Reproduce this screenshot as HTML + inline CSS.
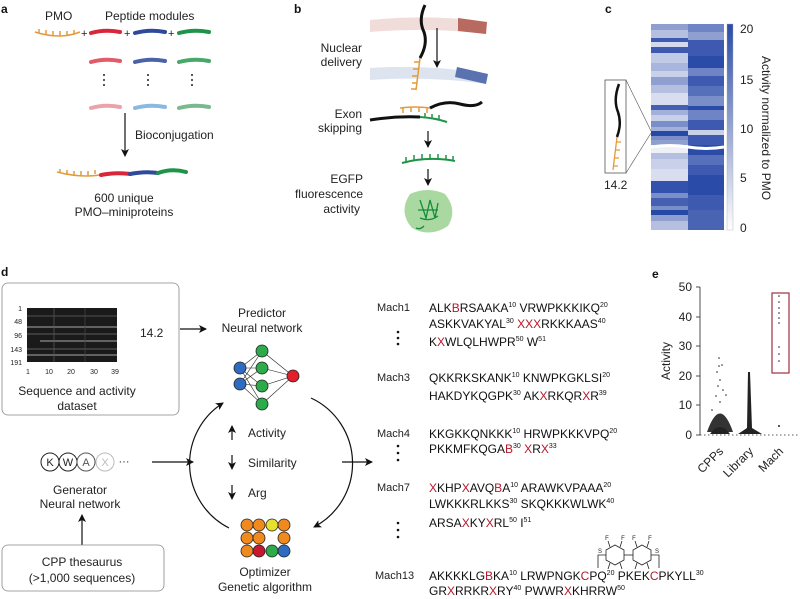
<!DOCTYPE html>
<html><head><meta charset="utf-8"><style>
html,body{margin:0;padding:0;background:#fff;}
svg{display:block;font-family:"Liberation Sans",sans-serif;}
.t{font-size:12px;fill:#222;}
.s{font-size:12px;fill:#111;}
.r{fill:#b5172a;}
.sup{font-size:7px;}
.lbl{font-size:11px;fill:#222;}
</style></head><body>
<svg width="800" height="599" viewBox="0 0 800 599" xmlns="http://www.w3.org/2000/svg">
<defs>
<marker id="ah" markerWidth="8" markerHeight="8" refX="7" refY="4" orient="auto" markerUnits="userSpaceOnUse"><path d="M0,0 L8,4 L0,8 L2,4 z" fill="#111"/></marker>
</defs>
<!-- panel labels -->
<g font-weight="bold" font-size="12" fill="#111">
<text x="1" y="13">a</text><text x="294" y="13">b</text><text x="605" y="13">c</text>
<text x="1" y="276">d</text><text x="652" y="278">e</text></g>

<!-- panel a -->
<text class="t" x="45" y="20">PMO</text>
<text class="t" x="105" y="20">Peptide modules</text>
<g fill="none" stroke="#e49a3a" stroke-width="1.5">
<path d="M35,32 Q60,40 80,32"/><path d="M39,29v4M46,30v5M53,31v5M60,31v5M67,31v5M74,30v4"/>
<path d="M57,172 Q80,178 100,175"/><path d="M60,169v4M67,170v5M74,171v5M81,171v5M88,171v5M95,170v4"/>
</g>
<g font-size="11" fill="#222"><text x="81" y="37">+</text><text x="124" y="37">+</text><text x="168" y="37">+</text></g>
<g fill="none" stroke-linecap="round" stroke-width="4">
<path d="M91,33 Q105,29 120,32" stroke="#d9263a"/><path d="M135,33 Q150,29 165,32" stroke="#2f4a9a"/><path d="M179,33 Q194,29 209,32" stroke="#1f9448"/>
<path d="M91,62 Q105,58 120,61" stroke="#e35a68"/><path d="M135,62 Q150,58 165,61" stroke="#4a62aa"/><path d="M179,62 Q194,58 209,61" stroke="#48a868"/>
<path d="M91,108 Q105,104 120,107" stroke="#eaa3aa"/><path d="M135,108 Q150,104 165,107" stroke="#8ab8e0"/><path d="M179,108 Q194,104 209,107" stroke="#7ab88e"/>
<path d="M101,175 Q115,172 130,174" stroke="#d9263a"/><path d="M130,174 Q145,171 158,173" stroke="#2f4a9a"/><path d="M158,173 Q172,168 186,172" stroke="#1f9448"/>
</g>
<g fill="#222"><circle cx="104" cy="75" r="1"/><circle cx="104" cy="80" r="1"/><circle cx="104" cy="85" r="1"/>
<circle cx="148" cy="75" r="1"/><circle cx="148" cy="80" r="1"/><circle cx="148" cy="85" r="1"/>
<circle cx="192" cy="75" r="1"/><circle cx="192" cy="80" r="1"/><circle cx="192" cy="85" r="1"/></g>
<line x1="125" y1="113" x2="125" y2="156" stroke="#111" stroke-width="1.2" marker-end="url(#ah)"/>
<text class="t" x="135" y="139">Bioconjugation</text>
<text class="t" x="124" y="202" text-anchor="middle">600 unique</text>
<text class="t" x="124" y="216" text-anchor="middle">PMO–miniproteins</text>

<!-- panel b -->
<g class="t" text-anchor="end"><text x="362" y="52">Nuclear</text><text x="362" y="66">delivery</text>
<text x="362" y="118">Exon</text><text x="362" y="132">skipping</text>
<text x="363" y="183">EGFP</text><text x="363" y="198">fluorescence</text><text x="360" y="213">activity</text></g>
<path d="M370,20 Q430,14 487,22 L486,34 Q430,27 370,32 z" fill="#f0dcd8"/>
<path d="M458,18 L487,22 L486,34 L458,31 z" fill="#b86a60"/>
<path d="M370,68 Q430,64 488,74 L486,84 Q430,76 370,80 z" fill="#dde4f0"/>
<path d="M457,67 L488,74 L486,84 L455,77 z" fill="#5a72b0"/>
<path d="M425,5 Q418,20 424,32 Q428,44 420,58" fill="none" stroke="#111" stroke-width="3"/>
<g stroke="#e49a3a" stroke-width="1.5" fill="none"><path d="M420,58 L416,90"/><path d="M419,62h-5M418,69h-5M417,76h-5M417,83h-5M416,89h-5"/></g>
<line x1="437" y1="28" x2="437" y2="67" stroke="#111" stroke-width="1.2" marker-end="url(#ah)"/>
<path d="M400,108 Q415,106 430,108" stroke="#e49a3a" stroke-width="1.5" fill="none"/>
<path d="M403,108v5M411,107v5M419,107v5M427,108v5" stroke="#e49a3a" stroke-width="1.5"/>
<path d="M430,108 Q445,100 460,104 T482,102" stroke="#111" stroke-width="3" fill="none"/>
<path d="M370,120 Q395,116 420,117" stroke="#111" stroke-width="3" fill="none"/>
<path d="M420,117 Q435,118 447,122" stroke="#1f9448" stroke-width="2" fill="none"/>
<path d="M425,117v-4M432,118v-4M439,119v-4" stroke="#1f9448" stroke-width="1.5"/>
<line x1="428" y1="131" x2="428" y2="147" stroke="#111" stroke-width="1.2" marker-end="url(#ah)"/>
<path d="M402,163 Q428,156 455,161" stroke="#1f9448" stroke-width="2" fill="none"/>
<path d="M406,162v-5M414,160v-5M422,159v-5M430,159v-5M438,159v-5M446,160v-5M453,161v-5" stroke="#1f9448" stroke-width="1.5"/>
<line x1="428" y1="169" x2="428" y2="185" stroke="#111" stroke-width="1.2" marker-end="url(#ah)"/>
<path d="M410,194 Q428,186 445,194 Q458,210 448,226 Q430,238 412,228 Q398,212 410,194 z" fill="#a9d9a0"/>
<path d="M420,200 l6,18 l4,-18 l5,18 l3,-15 M418,210 h20 M420,218 q10,4 18,-2 M424,226 q-4,4 -8,2" stroke="#178a3a" stroke-width="1.3" fill="none"/>

<!-- panel c -->
<g id="hm">
<rect x="651" y="24" width="73" height="206" fill="#ffffff"/>
</g>
<g>
<rect x="651" y="24" width="37" height="6" fill="#8e9fd0"/><rect x="651" y="30" width="37" height="8" fill="#b5c0e0"/><rect x="651" y="38" width="37" height="4" fill="#3d5ab0"/><rect x="651" y="42" width="37" height="5" fill="#d2d9ee"/><rect x="651" y="47" width="37" height="6" fill="#3d5ab0"/><rect x="651" y="53" width="37" height="10" fill="#c2cbe6"/><rect x="651" y="63" width="37" height="8" fill="#a8b5dc"/><rect x="651" y="71" width="37" height="6" fill="#c9d1ea"/><rect x="651" y="77" width="37" height="8" fill="#8e9fd0"/><rect x="651" y="85" width="37" height="8" fill="#b5c0e0"/><rect x="651" y="93" width="37" height="12" fill="#d8def0"/><rect x="651" y="105" width="37" height="5" fill="#4560b2"/><rect x="651" y="110" width="37" height="5" fill="#a3b1da"/><rect x="651" y="115" width="37" height="6" fill="#c9d1ea"/><rect x="651" y="121" width="37" height="6" fill="#7a8ec8"/><rect x="651" y="127" width="37" height="4" fill="#a3b1da"/><rect x="651" y="131" width="37" height="5" fill="#244aa6"/><rect x="651" y="136" width="37" height="4" fill="#7a8ec8"/><rect x="651" y="140" width="37" height="5" fill="#8e9fd0"/><rect x="651" y="145" width="37" height="8" fill="#eef0f8"/><rect x="651" y="153" width="37" height="6" fill="#b5c0e0"/><rect x="651" y="159" width="37" height="10" fill="#c9d1ea"/><rect x="651" y="169" width="37" height="12" fill="#d8def0"/><rect x="651" y="181" width="37" height="12" fill="#3352ad"/><rect x="651" y="193" width="37" height="5" fill="#7a8ec8"/><rect x="651" y="198" width="37" height="8" fill="#4560b2"/><rect x="651" y="206" width="37" height="4" fill="#7a8ec8"/><rect x="651" y="210" width="37" height="5" fill="#244aa6"/><rect x="651" y="215" width="37" height="6" fill="#8e9fd0"/><rect x="651" y="221" width="37" height="9" fill="#b5c0e0"/>
<rect x="688" y="24" width="36" height="8" fill="#6f84c4"/><rect x="688" y="32" width="36" height="8" fill="#8e9fd0"/><rect x="688" y="40" width="36" height="16" fill="#3d5ab0"/><rect x="688" y="56" width="36" height="12" fill="#2a4ca8"/><rect x="688" y="68" width="36" height="8" fill="#6f84c4"/><rect x="688" y="76" width="36" height="10" fill="#3d5ab0"/><rect x="688" y="86" width="36" height="10" fill="#5670ba"/><rect x="688" y="96" width="36" height="10" fill="#7a8ec8"/><rect x="688" y="106" width="36" height="4" fill="#2a4ca8"/><rect x="688" y="110" width="36" height="10" fill="#6f84c4"/><rect x="688" y="120" width="36" height="10" fill="#3d5ab0"/><rect x="688" y="130" width="36" height="5" fill="#c9d1ea"/><rect x="688" y="135" width="36" height="10" fill="#3d5ab0"/><rect x="688" y="145" width="36" height="10" fill="#2a4ca8"/><rect x="688" y="155" width="36" height="10" fill="#5670ba"/><rect x="688" y="165" width="36" height="10" fill="#3d5ab0"/><rect x="688" y="175" width="36" height="20" fill="#2a4ca8"/><rect x="688" y="195" width="36" height="15" fill="#3d5ab0"/><rect x="688" y="210" width="36" height="20" fill="#4a64b4"/>
</g>
<path d="M651,147 Q670,144 688,147 Q706,150 724,147" stroke="#fff" stroke-width="3" fill="none"/>
<defs><linearGradient id="cb" x1="0" y1="1" x2="0" y2="0"><stop offset="0" stop-color="#fff"/><stop offset="1" stop-color="#2a4ca8"/></linearGradient></defs>
<rect x="727" y="24" width="6" height="206" fill="url(#cb)" stroke="#aaa" stroke-width="0.4"/>
<g class="t"><text x="740" y="33">20</text><text x="740" y="84">15</text><text x="740" y="133">10</text><text x="740" y="182">5</text><text x="740" y="232">0</text></g>
<text class="t" transform="translate(762,128) rotate(90)" text-anchor="middle">Activity normalized to PMO</text>
<rect x="605" y="80" width="21" height="93" fill="#fff" stroke="#555" stroke-width="0.8"/>
<line x1="626" y1="80" x2="651" y2="131" stroke="#555" stroke-width="0.6"/><line x1="626" y1="173" x2="651" y2="133" stroke="#555" stroke-width="0.6"/>
<path d="M619,84 Q613,100 618,112 Q622,124 617,137" stroke="#111" stroke-width="2.5" fill="none"/>
<path d="M617,137 L613,170 M616,142h5M615,150h5M614,158h5M613,166h5" stroke="#e49a3a" stroke-width="1.3" fill="none"/>
<text class="t" x="604" y="189">14.2</text>

<!-- panel d -->
<rect x="2" y="283" width="177" height="132" rx="6" fill="#fff" stroke="#888" stroke-width="0.8"/>
<rect x="27" y="308" width="90" height="54" fill="#1a1a1a"/>
<g stroke="#ddd" stroke-width="0.8"><line x1="27" y1="327" x2="117" y2="327"/><line x1="40" y1="341" x2="117" y2="341"/><line x1="27" y1="355" x2="117" y2="355"/><line x1="27" y1="316" x2="117" y2="316" stroke="#666"/><line x1="27" y1="334" x2="117" y2="334" stroke="#777"/><line x1="27" y1="349" x2="117" y2="349" stroke="#777"/><line x1="54" y1="308" x2="54" y2="362" stroke="#555"/><line x1="85" y1="308" x2="85" y2="362" stroke="#444"/></g>
<g font-size="7" fill="#222" text-anchor="end"><text x="22" y="311">1</text><text x="22" y="324">48</text><text x="22" y="338">96</text><text x="22" y="352">143</text><text x="22" y="365">191</text></g>
<g font-size="7" fill="#222" text-anchor="middle"><text x="28" y="374">1</text><text x="49" y="374">10</text><text x="71" y="374">20</text><text x="94" y="374">30</text><text x="115" y="374">39</text></g>
<text class="t" x="77" y="395" text-anchor="middle">Sequence and activity</text>
<text class="t" x="77" y="410" text-anchor="middle">dataset</text>
<text class="t" x="140" y="337">14.2</text>
<line x1="180" y1="329" x2="206" y2="329" stroke="#111" stroke-width="1.2" marker-end="url(#ah)"/>
<text class="t" x="262" y="317" text-anchor="middle">Predictor</text>
<text class="t" x="262" y="332" text-anchor="middle">Neural network</text>
<g stroke="#222" stroke-width="0.6">
<path d="M240,368 L262,351 M240,368 L262,368 M240,368 L262,386 M240,368 L262,404 M240,384 L262,351 M240,384 L262,368 M240,384 L262,386 M240,384 L262,404 M262,351 L293,376 M262,368 L293,376 M262,386 L293,376 M262,404 L293,376"/>
</g>
<g stroke="#222" stroke-width="0.8">
<circle cx="240" cy="368" r="6" fill="#2f6cc0"/><circle cx="240" cy="384" r="6" fill="#2f6cc0"/>
<circle cx="262" cy="351" r="6" fill="#2daa4a"/><circle cx="262" cy="368" r="6" fill="#2daa4a"/><circle cx="262" cy="386" r="6" fill="#2daa4a"/><circle cx="262" cy="404" r="6" fill="#2daa4a"/>
<circle cx="293" cy="376" r="6" fill="#e0202a"/></g>
<path d="M229,528 A72,72 0 0 1 223,403" fill="none" stroke="#111" stroke-width="1.2" marker-end="url(#ah)"/>
<path d="M311,398 A72,72 0 0 1 314,527" fill="none" stroke="#111" stroke-width="1.2" marker-end="url(#ah)"/>
<g stroke="#111" stroke-width="1.2"><line x1="232" y1="440" x2="232" y2="426" marker-end="url(#ah)"/><line x1="232" y1="455" x2="232" y2="469" marker-end="url(#ah)"/><line x1="232" y1="485" x2="232" y2="499" marker-end="url(#ah)"/></g>
<text class="t" x="248" y="437">Activity</text><text class="t" x="248" y="467">Similarity</text><text class="t" x="248" y="497">Arg</text>
<g stroke="#222" stroke-width="0.8">
<circle cx="247" cy="525" r="6" fill="#f08a1e"/><circle cx="259" cy="525" r="6" fill="#f08a1e"/><circle cx="272" cy="525" r="6" fill="#e8e030"/><circle cx="284" cy="525" r="6" fill="#f08a1e"/>
<circle cx="247" cy="538" r="6" fill="#f08a1e"/><circle cx="259" cy="538" r="6" fill="#f08a1e"/><circle cx="284" cy="538" r="6" fill="#f08a1e"/>
<circle cx="247" cy="551" r="6" fill="#f08a1e"/><circle cx="259" cy="551" r="6" fill="#c81830"/><circle cx="272" cy="551" r="6" fill="#2daa4a"/><circle cx="284" cy="551" r="6" fill="#2f6cc0"/></g>
<text class="t" x="265" y="576" text-anchor="middle">Optimizer</text>
<text class="t" x="265" y="591" text-anchor="middle">Genetic algorithm</text>
<g fill="#fff" stroke-width="1"><circle cx="50" cy="462" r="9" stroke="#222"/><circle cx="68" cy="462" r="9" stroke="#222"/><circle cx="86" cy="462" r="9" stroke="#555"/><circle cx="105" cy="462" r="9" stroke="#bbb"/></g>
<g font-size="11" text-anchor="middle"><text x="50" y="466" fill="#222">K</text><text x="68" y="466" fill="#222">W</text><text x="86" y="466" fill="#555">A</text><text x="105" y="466" fill="#bbb">X</text><text x="124" y="465" fill="#222">···</text></g>
<line x1="152" y1="462" x2="193" y2="462" stroke="#111" stroke-width="1.2" marker-end="url(#ah)"/>
<text class="t" x="80" y="494" text-anchor="middle">Generator</text>
<text class="t" x="80" y="508" text-anchor="middle">Neural network</text>
<line x1="82" y1="545" x2="82" y2="515" stroke="#111" stroke-width="1.2" marker-end="url(#ah)"/>
<rect x="2" y="545" width="162" height="46" rx="6" fill="#fff" stroke="#888" stroke-width="0.8"/>
<text class="t" x="82" y="566" text-anchor="middle">CPP thesaurus</text>
<text class="t" x="82" y="582" text-anchor="middle">(&gt;1,000 sequences)</text>
<line x1="342" y1="462" x2="372" y2="462" stroke="#111" stroke-width="1.2" marker-end="url(#ah)"/>

<!-- sequences -->
<g class="lbl"><text x="377" y="311">Mach1</text><text x="377" y="381">Mach3</text><text x="377" y="437">Mach4</text><text x="377" y="491">Mach7</text><text x="375" y="579">Mach13</text></g>
<g fill="#111"><circle cx="398" cy="332" r="1.3"/><circle cx="398" cy="338" r="1.3"/><circle cx="398" cy="344" r="1.3"/>
<circle cx="398" cy="446" r="1.3"/><circle cx="398" cy="453" r="1.3"/><circle cx="398" cy="460" r="1.3"/>
<circle cx="398" cy="523" r="1.3"/><circle cx="398" cy="530" r="1.3"/><circle cx="398" cy="537" r="1.3"/></g>
<g class="s">
<text x="429" y="312">ALK<tspan class="r">B</tspan>RSAAKA<tspan class="sup" dy="-5">10</tspan><tspan dy="5"> VRWPKKKIKQ</tspan><tspan class="sup" dy="-5">20</tspan></text>
<text x="429" y="328">ASKKVAKYAL<tspan class="sup" dy="-5">30</tspan><tspan dy="5"> </tspan><tspan class="r">XXX</tspan>RKKKAAS<tspan class="sup" dy="-5">40</tspan></text>
<text x="429" y="346">K<tspan class="r">X</tspan>WLQLHWPR<tspan class="sup" dy="-5">50</tspan><tspan dy="5"> W</tspan><tspan class="sup" dy="-5">51</tspan></text>
<text x="429" y="382">QKKRKSKANK<tspan class="sup" dy="-5">10</tspan><tspan dy="5"> KNWPKGKLSI</tspan><tspan class="sup" dy="-5">20</tspan></text>
<text x="429" y="400">HAKDYKQGPK<tspan class="sup" dy="-5">30</tspan><tspan dy="5"> AK</tspan><tspan class="r">X</tspan>RKQR<tspan class="r">X</tspan>R<tspan class="sup" dy="-5">39</tspan></text>
<text x="429" y="438">KKGKKQNKKK<tspan class="sup" dy="-5">10</tspan><tspan dy="5"> HRWPKKKVPQ</tspan><tspan class="sup" dy="-5">20</tspan></text>
<text x="429" y="453">PKKMFKQGA<tspan class="r">B</tspan><tspan class="sup" dy="-5">30</tspan><tspan dy="5"> </tspan><tspan class="r">X</tspan>R<tspan class="r">X</tspan><tspan class="sup" dy="-5">33</tspan></text>
<text x="429" y="492"><tspan class="r">X</tspan>KHP<tspan class="r">X</tspan>AVQ<tspan class="r">B</tspan>A<tspan class="sup" dy="-5">10</tspan><tspan dy="5"> ARAWKVPAAA</tspan><tspan class="sup" dy="-5">20</tspan></text>
<text x="429" y="508">LWKKKRLKKS<tspan class="sup" dy="-5">30</tspan><tspan dy="5"> SKQKKKWLWK</tspan><tspan class="sup" dy="-5">40</tspan></text>
<text x="429" y="527">ARSA<tspan class="r">X</tspan>KY<tspan class="r">X</tspan>RL<tspan class="sup" dy="-5">50</tspan><tspan dy="5"> I</tspan><tspan class="sup" dy="-5">51</tspan></text>
<text x="429" y="580">AKKKKLG<tspan class="r">B</tspan>KA<tspan class="sup" dy="-5">10</tspan><tspan dy="5"> LRWPNGK</tspan><tspan class="r">C</tspan>PQ<tspan class="sup" dy="-5">20</tspan><tspan dy="5"> PKEK</tspan><tspan class="r">C</tspan>PKYLL<tspan class="sup" dy="-5">30</tspan></text>
<text x="429" y="595">GR<tspan class="r">X</tspan>RRKR<tspan class="r">X</tspan>RY<tspan class="sup" dy="-5">40</tspan><tspan dy="5"> PWWR</tspan><tspan class="r">X</tspan>KHRRW<tspan class="sup" dy="-5">50</tspan></text>
</g>
<!-- chem structure -->
<g fill="none" stroke="#222" stroke-width="0.8">
<polygon points="615,545 624,550 624,560 615,565 606,560 606,550"/>
<polygon points="642,545 651,550 651,560 642,565 633,560 633,550"/>
<line x1="624" y1="555" x2="633" y2="555"/>
<path d="M606,555 L598,555 L598,568"/><path d="M651,555 L659,555 L659,568"/>
<path d="M610,547 L608,541 M620,547 L622,541 M637,547 L635,541 M647,547 L649,541 M610,563 L608,569 M620,563 L622,569 M637,563 L635,569 M647,563 L649,569"/>
</g>
<g font-size="6" fill="#222" text-anchor="middle"><text x="607" y="540">F</text><text x="623" y="540">F</text><text x="634" y="540">F</text><text x="650" y="540">F</text><text x="600" y="553">S</text><text x="657" y="553">S</text></g>

<!-- panel e -->
<line x1="700" y1="287" x2="700" y2="435" stroke="#222" stroke-width="0.8"/>
<g stroke="#222" stroke-width="0.8"><line x1="696" y1="287" x2="700" y2="287"/><line x1="696" y1="317" x2="700" y2="317"/><line x1="696" y1="346" x2="700" y2="346"/><line x1="696" y1="376" x2="700" y2="376"/><line x1="696" y1="405" x2="700" y2="405"/><line x1="696" y1="435" x2="700" y2="435"/></g>
<line x1="700" y1="435" x2="800" y2="435" stroke="#222" stroke-width="0.8" stroke-dasharray="1.5,2.5"/>
<g class="t" text-anchor="end"><text x="692" y="291">50</text><text x="692" y="321">40</text><text x="692" y="350">30</text><text x="692" y="380">20</text><text x="692" y="409">10</text><text x="692" y="439">0</text></g>
<text class="t" transform="translate(670,361) rotate(-90)" text-anchor="middle">Activity</text>
<path d="M707,432 Q720,395 733,432 z" fill="#333"/>
<path d="M710,434 Q720,420 730,434 z" fill="#222"/>
<g fill="#222"><circle cx="719" cy="358" r="0.8"/><circle cx="722" cy="365" r="0.8"/><circle cx="717" cy="372" r="0.8"/><circle cx="720" cy="380" r="0.8"/><circle cx="723" cy="390" r="0.8"/><circle cx="716" cy="396" r="0.8"/><circle cx="720" cy="402" r="0.8"/><circle cx="726" cy="395" r="0.8"/><circle cx="712" cy="410" r="0.8"/><circle cx="719" cy="366" r="0.8"/><circle cx="718" cy="386" r="0.8"/></g>
<path d="M748,372 L750,372 L752,428 L762,434 L738,434 L747,428 z" fill="#222"/>
<g fill="#222"><circle cx="779" cy="296" r="0.8"/><circle cx="779" cy="302" r="0.8"/><circle cx="779" cy="308" r="0.8"/><circle cx="779" cy="313" r="0.8"/><circle cx="779" cy="318" r="0.8"/><circle cx="779" cy="323" r="0.8"/><circle cx="779" cy="347" r="0.8"/><circle cx="779" cy="354" r="0.8"/><circle cx="779" cy="361" r="0.8"/><circle cx="779" cy="426" r="1"/></g>
<rect x="772" y="293" width="17" height="80" fill="none" stroke="#a03040" stroke-width="1.2"/>
<g class="t"><text transform="translate(724,452) rotate(-45)" text-anchor="end">CPPs</text><text transform="translate(754,452) rotate(-45)" text-anchor="end">Library</text><text transform="translate(784,452) rotate(-45)" text-anchor="end">Mach</text></g>
</svg>
</body></html>
